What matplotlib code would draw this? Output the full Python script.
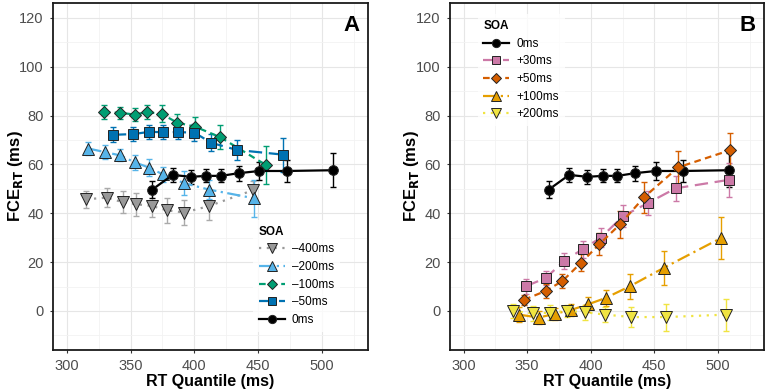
import matplotlib
matplotlib.use("Agg")
import matplotlib.pyplot as plt
from matplotlib.ticker import MultipleLocator

plt.rcParams['font.family'] = ['Liberation Sans', 'DejaVu Sans']

# ---- data: panel A ----
a_m400_x = [315.2, 331.2, 344.0, 354.2, 366.5, 378.5, 392.1, 411.3, 445.8]
a_m400_y = [45.7, 46.4, 44.5, 43.7, 43.0, 41.2, 40.3, 42.9, 49.4]
a_m400_e = [3.5, 4.0, 4.5, 4.7, 4.7, 5.0, 5.0, 5.5, 4.0]

a_m200_x = [316.8, 330.1, 341.6, 353.4, 364.4, 375.4, 392.1, 411.3, 446.9]
a_m200_y = [66.5, 65.0, 63.7, 60.8, 58.7, 55.9, 52.3, 49.7, 46.1]
a_m200_e = [2.5, 3.0, 2.5, 3.0, 3.3, 3.0, 5.0, 4.0, 7.5]

a_m100_x = [328.8, 341.9, 353.1, 362.8, 374.3, 386.4, 400.8, 420.4, 456.0]
a_m100_y = [81.4, 81.1, 80.4, 81.4, 80.7, 77.1, 75.4, 71.1, 59.8]
a_m100_e = [3.0, 2.5, 2.5, 3.0, 3.5, 3.5, 4.0, 5.0, 7.7]

a_m50_x = [336.1, 352.1, 364.4, 375.7, 387.2, 400.0, 413.4, 433.5, 469.4]
a_m50_y = [72.1, 72.4, 73.3, 73.2, 73.2, 73.0, 68.8, 65.9, 64.0]
a_m50_e = [3.0, 2.8, 3.0, 3.0, 3.0, 3.5, 3.5, 4.0, 7.0]

zero_x = [367.0, 383.0, 397.3, 409.3, 421.0, 434.8, 451.0, 472.5, 508.5]
zero_y = [49.7, 55.7, 54.9, 55.3, 55.3, 56.4, 57.3, 57.3, 57.6]
zero_e = [3.4, 2.9, 2.9, 2.7, 2.7, 3.0, 3.7, 4.4, 7.0]

# ---- data: panel B ----
b_p30_x = [348.9, 364.6, 379.3, 393.7, 407.8, 425.6, 444.7, 466.7, 509.0]
b_p30_y = [10.1, 13.5, 20.6, 25.3, 30.0, 38.9, 44.1, 50.2, 53.7]
b_p30_e = [3.0, 3.0, 3.3, 3.5, 4.0, 4.5, 5.0, 5.0, 7.0]

b_p50_x = [347.6, 364.6, 377.6, 392.5, 406.7, 422.9, 442.0, 468.8, 509.5]
b_p50_y = [4.6, 8.2, 12.2, 19.8, 27.3, 35.4, 46.6, 58.8, 65.8]
b_p50_e = [2.0, 2.7, 3.0, 3.5, 4.5, 5.5, 6.3, 6.8, 7.0]

b_p100_x = [343.4, 359.1, 372.2, 384.4, 397.8, 411.6, 430.7, 457.6, 502.6]
b_p100_y = [-1.5, -2.7, -1.1, 0.4, 2.7, 5.3, 10.1, 17.7, 29.9]
b_p100_e = [3.0, 2.5, 2.5, 2.5, 3.0, 3.2, 5.0, 7.0, 8.5]

b_p200_x = [338.7, 354.4, 368.0, 381.6, 395.4, 411.4, 432.0, 459.5, 506.0]
b_p200_y = [0.0, -1.0, -0.7, 0.0, -0.5, -1.5, -2.5, -2.5, -1.5]
b_p200_e = [3.0, 3.0, 3.0, 2.5, 3.0, 3.0, 4.0, 5.5, 6.5]

fig = plt.figure(figsize=(7.66, 3.92), dpi=100)
axA = fig.add_axes([0.069, 0.107, 0.411, 0.885])
axB = fig.add_axes([0.587, 0.107, 0.410, 0.885])

def series(ax, x, y, e, color, marker, ls, label, ms, ecol=None):
    ax.errorbar(x, y, yerr=e, fmt='none', ecolor=ecol or color, elinewidth=1.0,
                capsize=2.2, capthick=1.0, zorder=2)
    ax.plot(x, y, linestyle=ls, color=color, linewidth=1.6, marker=marker,
            markersize=ms, markerfacecolor=color, markeredgecolor='#222222',
            markeredgewidth=0.7, label=label, zorder=3)

def style(ax, letter):
    ax.set_xlim(289, 536)
    ax.set_ylim(-16, 126)
    ax.xaxis.set_major_locator(MultipleLocator(50))
    ax.xaxis.set_minor_locator(MultipleLocator(25))
    ax.yaxis.set_major_locator(MultipleLocator(20))
    ax.yaxis.set_minor_locator(MultipleLocator(10))
    ax.grid(which='major', color='#e6e6e6', linewidth=0.8)
    ax.grid(which='minor', color='#f2f2f2', linewidth=0.6)
    ax.set_axisbelow(True)
    for s in ax.spines.values():
        s.set_linewidth(1.3)
        s.set_color('#1a1a1a')
    ax.tick_params(which='major', length=2.5, color='#333333', labelsize=10.5,
                   labelcolor='#4d4d4d', pad=4)
    ax.tick_params(which='minor', length=0)
    ax.set_xlabel('RT Quantile (ms)', fontsize=11.5, fontweight='bold', labelpad=1)
    ax.set_ylabel(r'FCE$_{\mathbf{RT}}$ (ms)', fontsize=12, fontweight='bold')
    ax.yaxis.set_label_coords(-0.09, 0.5)
    ax.text(0.975, 0.965, letter, transform=ax.transAxes, ha='right', va='top',
            fontsize=16, fontweight='bold')

grey = '#999999'; lblue = '#56B4E9'; green = '#009E73'; blue = '#0072B2'
pink = '#CC79A7'; vermil = '#D55E00'; orange = '#E69F00'; yellow = '#F0E442'

series(axA, a_m400_x, a_m400_y, a_m400_e, grey, 'v', (0, (1, 2.5)), '\u2013400ms', 9, ecol='#aaaaaa')
series(axA, a_m200_x, a_m200_y, a_m200_e, lblue, '^', (0, (6, 2, 1, 2)), '\u2013200ms', 9)
series(axA, a_m100_x, a_m100_y, a_m100_e, green, 'D', (0, (3, 2)), '\u2013100ms', 6.5)
series(axA, a_m50_x, a_m50_y, a_m50_e, blue, 's', (0, (6, 3)), '\u201350ms', 7)
series(axA, zero_x, zero_y, zero_e, 'black', 'o', '-', '0ms', 7)

legkw = dict(frameon=True, fontsize=8.5,
             title_fontproperties={'weight': 'bold', 'size': 8.5},
             handlelength=2.2, handletextpad=0.6, labelspacing=0.48, borderpad=0.5,
             markerscale=0.85)
leg = axA.legend(loc='lower right', bbox_to_anchor=(0.93, 0.035), title='SOA', **legkw)
leg.get_frame().set_edgecolor('none')
leg.get_frame().set_facecolor('white')
leg._legend_box.align = 'left'

series(axB, zero_x, zero_y, zero_e, 'black', 'o', '-', '0ms', 7)
series(axB, b_p30_x, b_p30_y, b_p30_e, pink, 's', (0, (6, 3)), '+30ms', 7)
series(axB, b_p50_x, b_p50_y, b_p50_e, vermil, 'D', (0, (3, 2)), '+50ms', 6.5)
series(axB, b_p100_x, b_p100_y, b_p100_e, orange, '^', (0, (6, 2, 1, 2)), '+100ms', 9)
series(axB, b_p200_x, b_p200_y, b_p200_e, yellow, 'v', (0, (1, 2.5)), '+200ms', 9)

legB = axB.legend(loc='upper left', bbox_to_anchor=(0.07, 0.985), title='SOA', **legkw)
legB.get_frame().set_edgecolor('none')
legB.get_frame().set_facecolor('white')
legB._legend_box.align = 'left'

style(axA, 'A')
style(axB, 'B')

fig.savefig('out.png', dpi=100)
